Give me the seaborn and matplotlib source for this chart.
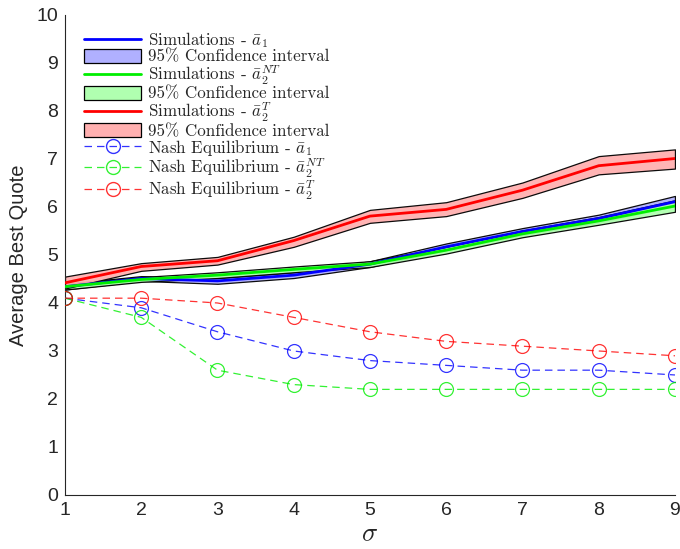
import matplotlib
matplotlib.use("Agg")
import matplotlib.pyplot as plt
import seaborn as sns
import pandas as pd
import numpy as np
from matplotlib.patches import Patch
from matplotlib.lines import Line2D

sigma = [1, 2, 3, 4, 5, 6, 7, 8, 9]

sim_a1 = [4.34, 4.51, 4.46, 4.58, 4.81, 5.17, 5.49, 5.76, 6.11]
sim_a1_lo = [4.28, 4.46, 4.40, 4.52, 4.75, 5.10, 5.42, 5.68, 6.02]
sim_a1_hi = [4.40, 4.56, 4.52, 4.64, 4.87, 5.24, 5.56, 5.84, 6.23]

sim_a2nt = [4.34, 4.49, 4.58, 4.70, 4.81, 5.10, 5.44, 5.71, 6.02]
sim_a2nt_lo = [4.28, 4.44, 4.52, 4.64, 4.75, 5.03, 5.37, 5.63, 5.90]
sim_a2nt_hi = [4.40, 4.54, 4.64, 4.76, 4.87, 5.17, 5.51, 5.79, 6.14]

sim_a2t = [4.42, 4.76, 4.88, 5.30, 5.81, 5.95, 6.35, 6.86, 7.01]
sim_a2t_lo = [4.30, 4.67, 4.80, 5.17, 5.67, 5.81, 6.19, 6.68, 6.80]
sim_a2t_hi = [4.55, 4.83, 4.96, 5.38, 5.94, 6.10, 6.51, 7.06, 7.20]

ne_a1 = [4.1, 3.9, 3.4, 3.0, 2.8, 2.7, 2.6, 2.6, 2.5]
ne_a2nt = [4.1, 3.7, 2.6, 2.3, 2.2, 2.2, 2.2, 2.2, 2.2]
ne_a2t = [4.1, 4.1, 4.0, 3.7, 3.4, 3.2, 3.1, 3.0, 2.9]

labels_sim = [r"Simulations - $\bar{a}_1$", r"Simulations - $\bar{a}_2^{NT}$", r"Simulations - $\bar{a}_2^{T}$"]
labels_ne = [r"Nash Equilibrium - $\bar{a}_1$", r"Nash Equilibrium - $\bar{a}_2^{NT}$", r"Nash Equilibrium - $\bar{a}_2^{T}$"]
ci_label = "95% Confidence interval"

sns.set_style("white")
plt.rcParams["font.family"] = ["Liberation Sans", "DejaVu Sans"]
plt.rcParams["mathtext.fontset"] = "cm"

fig = plt.figure(figsize=(6.8, 5.49), dpi=100)
ax = fig.add_axes([0.0956, 0.0984, 0.897, 0.8743])

colors = ["#0000ff", "#00ee00", "#ff0000"]
fills = ["#b0b0ff", "#b0ffb0", "#ffb0b0"]

sims = [(sim_a1, sim_a1_lo, sim_a1_hi), (sim_a2nt, sim_a2nt_lo, sim_a2nt_hi), (sim_a2t, sim_a2t_lo, sim_a2t_hi)]
nes = [ne_a1, ne_a2nt, ne_a2t]

for (m, lo, hi), c, f in zip(sims, colors, fills):
    ax.fill_between(sigma, lo, hi, facecolor=f, edgecolor="black", linewidth=0.9, alpha=0.95, zorder=2)

for (m, lo, hi), c, lab in zip(sims, colors, labels_sim):
    df = pd.DataFrame({"sigma": sigma, "v": m})
    sns.lineplot(data=df, x="sigma", y="v", color=c, linewidth=2.0, ax=ax, zorder=3)

for ne, c, lab in zip(nes, colors, labels_ne):
    df = pd.DataFrame({"sigma": sigma, "v": ne})
    sns.lineplot(data=df, x="sigma", y="v", color=c, linewidth=0.9, linestyle=(0, (6, 4)),
                 marker="o", markersize=10, markerfacecolor="none", markeredgecolor=c,
                 markeredgewidth=0.9, alpha=0.8, ax=ax, zorder=4)

ax.set_xlim(1, 9)
ax.set_ylim(0, 10)
ax.set_xticks(sigma)
ax.set_yticks(range(0, 11))
ax.tick_params(direction="in", length=4, labelsize=14, colors="#262626", width=0.6, pad=5)
for s in ["top", "right"]:
    ax.spines[s].set_visible(False)
for s in ["left", "bottom"]:
    ax.spines[s].set_color("#262626")
    ax.spines[s].set_linewidth(0.8)
ax.set_ylabel("Average Best Quote", fontsize=14.5, color="#262626", labelpad=6)
ax.set_xlabel(r"$\sigma$", fontsize=19, color="#262626", labelpad=2)

handles = []
leg_labels = []
for c, f, lab in zip(colors, fills, labels_sim):
    handles.append(Line2D([], [], color=c, linewidth=2.0))
    leg_labels.append(lab)
    handles.append(Patch(facecolor=f, edgecolor="black", linewidth=0.9))
    leg_labels.append(ci_label)
for c, lab in zip(colors, labels_ne):
    handles.append(Line2D([], [], color=c, linewidth=0.9, linestyle=(0, (6, 4)), marker="o",
                          markersize=10, markerfacecolor="none", markeredgecolor=c, alpha=0.8))
    leg_labels.append(lab)

leg = ax.legend(handles, leg_labels, loc="upper left", bbox_to_anchor=(0.014, 0.99), frameon=False,
                prop={"family": "cmr10", "size": 12.2}, handlelength=3.4, handletextpad=0.4,
                handleheight=0.9, labelspacing=-0.06, borderaxespad=0.2)

fig.savefig("out.png", dpi=100)
